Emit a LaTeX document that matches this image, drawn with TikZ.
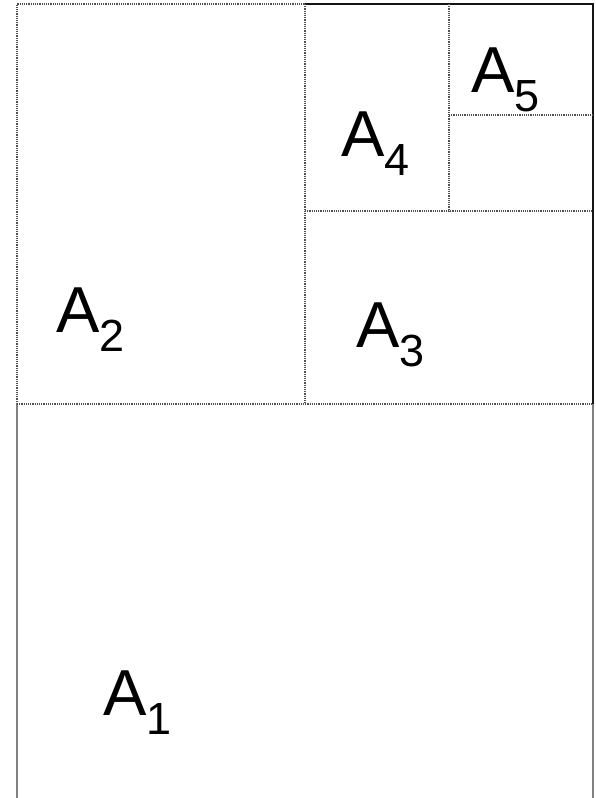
\documentclass[tikz,border=0pt]{standalone}
\usepackage{fontspec}
\setmainfont{Liberation Sans}
\usepackage{xcolor}
\usepackage{tikz}
\usetikzlibrary{positioning}
\definecolor{edgegray}{RGB}{128, 128, 128}
\definecolor{dotgray}{RGB}{80, 80, 80}
\definecolor{edgeblack}{RGB}{20, 20, 20}
\tikzset{
  dotline/.style={dotgray, line width=1.2pt, dash pattern=on 1.2pt off 1pt},
  solidgray/.style={edgegray, line width=1.4pt},
  solidblack/.style={edgeblack, line width=1.4pt},
  arealabel/.style={inner sep=0pt, anchor=base west}
}
\newcommand{\areatext}[2]{%
  {\fontsize{65}{70}\selectfont #1\raisebox{-19pt}{\fontsize{45}{50}\selectfont #2}}%
}

\begin{document}
\begin{tikzpicture}[x=1pt, y=-1pt]
    \useasboundingbox (0,0) rectangle (596,798);
    % Outer frame, lower part open at the bottom
    \draw[solidgray] (17,404) -- (17,798);
    \draw[solidgray] (593,404) -- (593,798);
    \draw[solidblack] (305,4) -- (593,4) -- (593,404);
    \draw[dotline] (17,404) -- (17,4) -- (305,4);
    % Inner divisions
    \draw[dotline] (17,404) -- (593,404);
    \draw[dotline] (305,4) -- (305,404);
    \draw[dotline] (305,211) -- (593,211);
    \draw[dotline] (449,4) -- (449,211);
    \draw[dotline] (449,115) -- (593,115);
    % Area labels
    \node[arealabel] (areaone)   at (103,715) {\areatext{A}{1}};
    \node[arealabel] (areatwo)   at (56,332)  {\areatext{A}{2}};
    \node[arealabel] (areathree) at (356,347) {\areatext{A}{3}};
    \node[arealabel] (areafour)  at (341,156) {\areatext{A}{4}};
    \node[arealabel] (areafive)  at (471,92)  {\areatext{A}{5}};
  \end{tikzpicture}
\end{document}
